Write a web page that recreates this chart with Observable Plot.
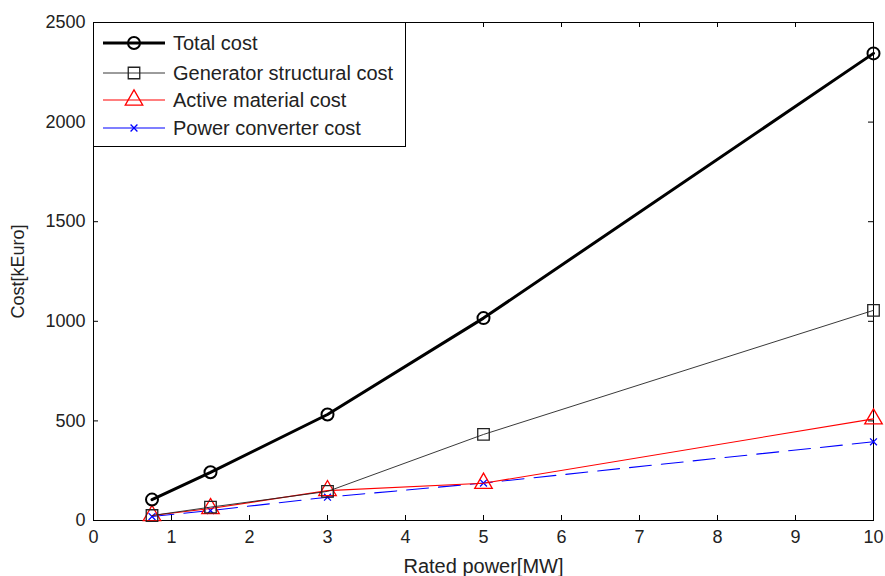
<!DOCTYPE html>
<html>
<head>
<meta charset="utf-8">
<script src="https://cdn.jsdelivr.net/npm/d3@7"></script>
<script src="https://cdn.jsdelivr.net/npm/@observablehq/plot@0.6"></script>
<style>
  body { margin: 0; background: white; }
  #wrap { position: relative; width: 885px; height: 576px; font-family: "Liberation Sans", Arial, sans-serif; }
  #legend { position: absolute; left: 93px; top: 22px; width: 313px; height: 125px; border: 1px solid black; background: white; box-sizing: border-box; }
  .row { position: absolute; left: 0; height: 26px; display: flex; align-items: center; }
  .row svg { margin-left: 9px; }
  .row span { margin-left: 8px; font-size: 20px; color: #222; white-space: nowrap; }
</style>
</head>
<body>
<div id="wrap"></div>
<script>
const power = [0.75, 1.5, 3, 5, 10];
const totalCost = [105, 242, 532, 1016, 2345];
const structuralCost = [25, 67, 146, 432, 1055];
const activeCost = [25, 60, 150, 187, 510];
const converterCost = [20, 50, 117, 188, 395];
const seriesNames = ["Total cost", "Generator structural cost", "Active material cost", "Power converter cost"];
const xTicks = [0, 1, 2, 3, 4, 5, 6, 7, 8, 9, 10];
const yTicks = [0, 500, 1000, 1500, 2000, 2500];
const xLabel = "Rated power[MW]";
const yLabel = "Cost[kEuro]";

const styles = [
  {stroke: "black", sw: 3, dash: null, symbol: "circle", r: 6, msw: 2},
  {stroke: "#222", sw: 0.9, dash: null, symbol: "square", r: 6.5, msw: 1.3},
  {stroke: "red", sw: 1.1, dash: null, symbol: "triangle", r: 6.5, msw: 1.3},
  {stroke: "blue", sw: 1.1, dash: "22,10", symbol: "times", r: 3.2, msw: 1.3}
];
const values = [totalCost, structuralCost, activeCost, converterCost];
const tables = values.map(v => power.map((p, i) => ({x: p, y: v[i]})));

const marks = [
  Plot.frame({stroke: "black", strokeWidth: 1}),
  Plot.tickX(xTicks, {x: d => d, insetTop: 493, stroke: "black"}),
  Plot.tickX(xTicks, {x: d => d, insetBottom: 493, stroke: "black"}),
  Plot.tickY(yTicks, {y: d => d, insetRight: 775, stroke: "black"}),
  Plot.tickY(yTicks, {y: d => d, insetLeft: 775, stroke: "black"}),
  Plot.axisX(xTicks, {tickSize: 0, tickPadding: 10, label: null, fill: "#222", tickFormat: d => String(d)}),
  Plot.axisY(yTicks, {tickSize: 0, tickPadding: 8, label: null, fill: "#222", tickFormat: d => String(d)}),
  Plot.text([xLabel], {frameAnchor: "bottom", dy: 46, text: d => d, fill: "#222", fontSize: 20, lineAnchor: "middle"}),
  Plot.text([yLabel], {frameAnchor: "left", dx: -75, rotate: -90, textAnchor: "middle", text: d => d, fill: "#222", fontSize: 18})
];
// draw lines from back to front: converter, active, structural, total
[3, 2, 1, 0].forEach(k => {
  const s = styles[k];
  marks.push(Plot.line(tables[k], {x: "x", y: "y", stroke: s.stroke, strokeWidth: s.sw, strokeDasharray: s.dash}));
  marks.push(Plot.dot(tables[k], {x: "x", y: "y", symbol: s.symbol, r: s.r, stroke: s.stroke, strokeWidth: s.msw, fill: "none"}));
});

const chart = Plot.plot({
  width: 885, height: 576,
  marginLeft: 93, marginRight: 12, marginTop: 22, marginBottom: 56,
  x: {domain: [0, 10]},
  y: {domain: [0, 2500]},
  style: {fontFamily: "'Liberation Sans', Arial, sans-serif", fontSize: "18px", background: "white", color: "#222"},
  marks
});
const wrap = document.getElementById("wrap");
wrap.appendChild(chart);

// legend
const legend = document.createElement("div");
legend.id = "legend";
const rowTops = [7, 37, 64, 92];
seriesNames.forEach((name, k) => {
  const s = styles[k];
  const row = document.createElement("div");
  row.className = "row";
  row.style.top = rowTops[k] + "px";
  const sw = d3.create("svg").attr("width", 62).attr("height", 26);
  sw.append("line").attr("x1", 0).attr("x2", 62).attr("y1", 13).attr("y2", 13)
    .attr("stroke", s.stroke).attr("stroke-width", s.sw);
  const area = Math.PI * s.r * s.r;
  const symMap = {circle: d3.symbolCircle, square: d3.symbolSquare, triangle: d3.symbolTriangle, times: d3.symbolTimes};
  sw.append("path").attr("transform", "translate(31,13)")
    .attr("d", d3.symbol(symMap[s.symbol], area)())
    .attr("fill", "none").attr("stroke", s.stroke).attr("stroke-width", s.msw);
  row.appendChild(sw.node());
  const t = document.createElement("span");
  t.textContent = name;
  row.appendChild(t);
  legend.appendChild(row);
});
wrap.appendChild(legend);
</script>
</body>
</html>
